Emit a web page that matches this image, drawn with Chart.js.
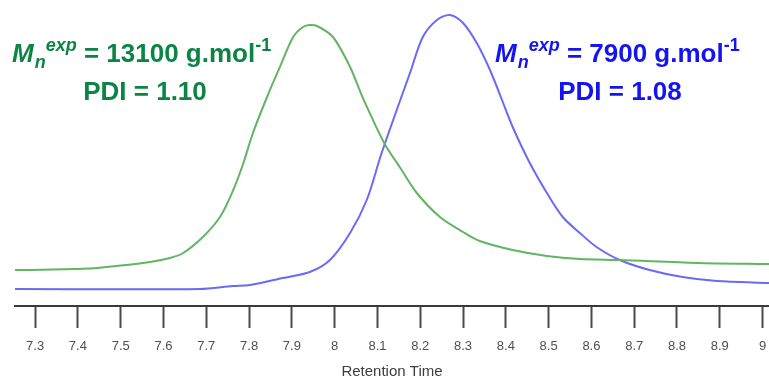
<!DOCTYPE html>
<html>
<head>
<meta charset="utf-8">
<script src="https://cdn.jsdelivr.net/npm/chart.js@4"></script>
<style>
  html, body { margin: 0; padding: 0; background: #fff; }
  #wrap { width: 769px; height: 381px; }
</style>
</head>
<body>
<div id="wrap"><canvas id="gpc"></canvas></div>
<script>
// retention time (min) and detector signal
const greenTime = [7.253, 7.316, 7.428, 7.491, 7.569, 7.615, 7.646, 7.692, 7.732, 7.762, 7.786, 7.809, 7.842, 7.872, 7.903, 7.926, 7.942, 7.959, 7.996, 8.036, 8.066, 8.117, 8.152, 8.192, 8.246, 8.300, 8.339, 8.416, 8.496, 8.573, 8.666, 8.846, 9.015];
const greenSignal = [36, 36.3, 37.5, 40, 44, 48, 53, 69, 89, 115, 142, 173, 209, 239, 269, 279, 281, 280, 269, 239, 208, 162, 139, 113, 89, 74, 65, 56, 50, 47, 46, 43, 42];

const blueTime = [7.253, 7.685, 7.762, 7.802, 7.879, 7.942, 7.989, 8.036, 8.075, 8.106, 8.117, 8.145, 8.176, 8.206, 8.239, 8.269, 8.300, 8.332, 8.363, 8.391, 8.416, 8.456, 8.496, 8.533, 8.573, 8.612, 8.666, 8.736, 8.813, 8.893, 9.015];
const blueSignal = [17, 17, 20, 21, 28, 34, 46, 73, 106, 148, 162, 196, 233, 269, 286, 291, 283, 263, 236, 206, 179, 143, 113, 89, 73, 59, 46, 36, 29, 25, 23];

const tickValues = [7.3, 7.4, 7.5, 7.6, 7.7, 7.8, 7.9, 8, 8.1, 8.2, 8.3, 8.4, 8.5, 8.6, 8.7, 8.8, 8.9, 9];

const greenNotes = { mn: "13100", pdi: "1.10" };
const blueNotes = { mn: "7900", pdi: "1.08" };

function points(xs, ys) {
  return xs.map((x, i) => ({ x: x, y: ys[i] }));
}

// draws the Mn / PDI annotations
function drawNote(ctx, x, y, size, color, mn, pdi, pdiCenter) {
  const small = Math.round(size * 0.68);
  const bold = "bold " + size + "px 'Liberation Sans', Arial, sans-serif";
  const boldIt = "italic bold " + size + "px 'Liberation Sans', Arial, sans-serif";
  const smallIt = "italic bold " + small + "px 'Liberation Sans', Arial, sans-serif";
  const smallB = "bold " + small + "px 'Liberation Sans', Arial, sans-serif";
  ctx.save();
  ctx.fillStyle = color;
  ctx.textBaseline = "alphabetic";
  ctx.textAlign = "left";
  let cx = x;
  ctx.font = boldIt;
  ctx.fillText("M", cx, y);
  cx += ctx.measureText("M").width + 1;
  ctx.font = smallIt;
  ctx.fillText("n", cx, y + 6);
  cx += ctx.measureText("n").width;
  ctx.fillText("exp", cx, y - 11);
  cx += ctx.measureText("exp").width;
  ctx.font = bold;
  const mid = " = " + mn + " g.mol";
  ctx.fillText(mid, cx, y);
  cx += ctx.measureText(mid).width;
  ctx.font = smallB;
  ctx.fillText("-1", cx, y - 11);
  ctx.font = bold;
  ctx.textAlign = "center";
  ctx.fillText("PDI = " + pdi, pdiCenter, y + 38);
  ctx.restore();
}

const notesPlugin = {
  id: "notes",
  afterDatasetsDraw(chart) {
    const ctx = chart.ctx;
    drawNote(ctx, 12, 62, 26, "#0b8543", greenNotes.mn, greenNotes.pdi, 145);
    drawNote(ctx, 495, 62, 26, "#1414f0", blueNotes.mn, blueNotes.pdi, 620);
  }
};

new Chart(document.getElementById("gpc"), {
  type: "line",
  data: {
    datasets: [
      {
        label: "green",
        data: points(greenTime, greenSignal),
        borderColor: "#62b562",
        borderWidth: 2,
        pointRadius: 0,
        fill: false,
        tension: 0.3,
      },
      {
        label: "blue",
        data: points(blueTime, blueSignal),
        borderColor: "#6a6af8",
        borderWidth: 2,
        pointRadius: 0,
        fill: false,
        tension: 0.3,
      },
    ],
  },
  options: {
    responsive: true,
    maintainAspectRatio: false,
    animation: false,
    layout: { padding: { left: 15, right: 0, top: 0, bottom: 0 } },
    plugins: {
      legend: { display: false },
      tooltip: { enabled: false },
    },
    scales: {
      x: {
        type: "linear",
        min: 7.253,
        max: 9.015,
        afterBuildTicks: (s) => {
          s.ticks = tickValues.map((v) => ({ value: v }));
        },
        afterFit: (s) => {
          s.height = 75;
          s.paddingLeft = 0;
          s.paddingRight = 0;
        },
        ticks: {
          autoSkip: false,
          maxRotation: 0,
          padding: 11,
          color: "#505050",
          font: { family: "'Liberation Sans', Arial, sans-serif", size: 13 },
          callback: (v) => String(v),
        },
        grid: {
          display: true,
          drawOnChartArea: false,
          drawTicks: true,
          tickLength: 22,
          tickWidth: 2,
          tickColor: "#4a4a4a",
        },
        border: { display: true, color: "#3a3a3a", width: 2 },
        title: {
          display: true,
          text: "Retention Time",
          color: "#3d3d3d",
          font: { family: "'Liberation Sans', Arial, sans-serif", size: 15 },
          padding: { top: 0, bottom: 0 },
        },
      },
      y: {
        display: false,
        min: 0,
        max: 306,
      },
    },
  },
  plugins: [notesPlugin],
});
</script>
</body>
</html>
